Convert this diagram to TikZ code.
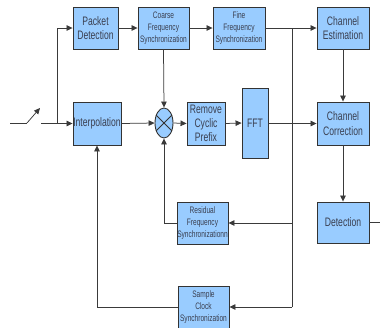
\documentclass[tikz,border=0pt]{standalone}
\usepackage{fontspec}
\newfontfamily\nf[FakeStretch=0.7]{Liberation Sans}
\usetikzlibrary{shapes.geometric,arrows.meta}
\definecolor{boxfill}{HTML}{99CCFF}
\definecolor{boxline}{HTML}{333333}
\definecolor{linecol}{HTML}{3A3A3A}
\definecolor{txt}{HTML}{3A3F50}
\tikzset{
  blk/.style={draw=boxline, line width=0.9pt, fill=boxfill, inner sep=0pt, align=center, text=txt, font=\nf\fontsize{12.3}{14.3}\selectfont},
  sblk/.style={blk, font=\nf\fontsize{9.4}{12}\selectfont},
  conn/.style={draw=linecol, line width=0.75pt},
  arr/.style={conn, -{Triangle[length=6pt,width=5.5pt]}},
}
\begin{document}
\begin{tikzpicture}[x=1pt,y=-1pt]
\useasboundingbox (0,0) rectangle (380,327);
% blocks
\node[blk, minimum width=45pt, minimum height=42pt] (pd) at (95.5,28) {Packet\\Detection};
\node[sblk, minimum width=51pt, minimum height=42pt] (coarse) at (163.5,28) {Coarse\\Frequency\\Synchronization};
\node[sblk, minimum width=52pt, minimum height=42pt] (fine) at (239,28) {Fine\\Frequency\\Synchronization};
\node[blk, minimum width=52pt, minimum height=42pt] (est) at (343,28) {Channel\\Estimation};
\node[blk, minimum width=48pt, minimum height=43pt] (interp) at (97,123.5) {Interpolation};
\node[draw=boxline, line width=0.9pt, fill=boxfill, ellipse, minimum width=18pt, minimum height=30pt, inner sep=0pt] (mult) at (164,123) {};
\draw[boxline, line width=0.8pt] (mult.45) -- (mult.225) (mult.135) -- (mult.315);
\node[blk, minimum width=38pt, minimum height=43pt] (rcp) at (206,123.5) {Remove\\Cyclic\\Prefix};
\node[blk, minimum width=26pt, minimum height=70pt] (fft) at (255,123) {FFT};
\node[blk, minimum width=52pt, minimum height=43pt] (corr) at (343,123.5) {Channel\\Correction};
\node[sblk, minimum width=51pt, minimum height=42pt] (resid) at (202.5,223) {Residual\\Frequency\\Synchronizationn};
\node[blk, minimum width=52pt, minimum height=41pt] (det) at (343,222.5) {Detection};
\node[sblk, minimum width=51pt, minimum height=42pt] (scs) at (203.5,307) {Sample\\Clock\\Synchronization};
% input switch
\coordinate (in0) at (10,123);
\coordinate (sw1) at (27,123);
\coordinate (sw2) at (40,108);
\coordinate (sw3) at (41,123.5);
\coordinate (br) at (57,123.5);
\draw[conn] (in0) -- (sw1);
\draw[arr] (sw1) -- (sw2);
\draw[arr] (sw3) -- (interp.west);
\draw[arr] (br) |- (pd.west);
% top chain
\draw[arr] (pd.east) -- (coarse.west);
\draw[arr] (coarse.east) -- (fine.west);
\draw[arr] (coarse.south) -- (mult.north);
\coordinate (vt) at (292,28);
\coordinate (vm) at (292,223);
\coordinate (vb) at (292,307);
\draw[arr] (fine.east) -- (est.west);
\draw[conn] (vt) -- (vb);
% middle chain
\draw[arr] (interp.east) -- (mult.west);
\draw[arr] (mult.east) -- (rcp.west);
\draw[arr] (rcp.east) -- (fft.west);
\draw[arr] (fft.east |- corr.west) -- (corr.west);
\draw[arr] (est.south) -- (corr.north);
\draw[arr] (corr.south) -- (det.north);
\coordinate (out) at (380,222.5);
\draw[conn] (det.east) -- (out);
% feedback
\draw[arr] (vm) -- (resid.east);
\draw[arr] (resid.west) -| (mult.south);
\draw[arr] (vb) -- (scs.east);
\draw[arr] (scs.west) -| (interp.south);
\end{tikzpicture}
\end{document}
